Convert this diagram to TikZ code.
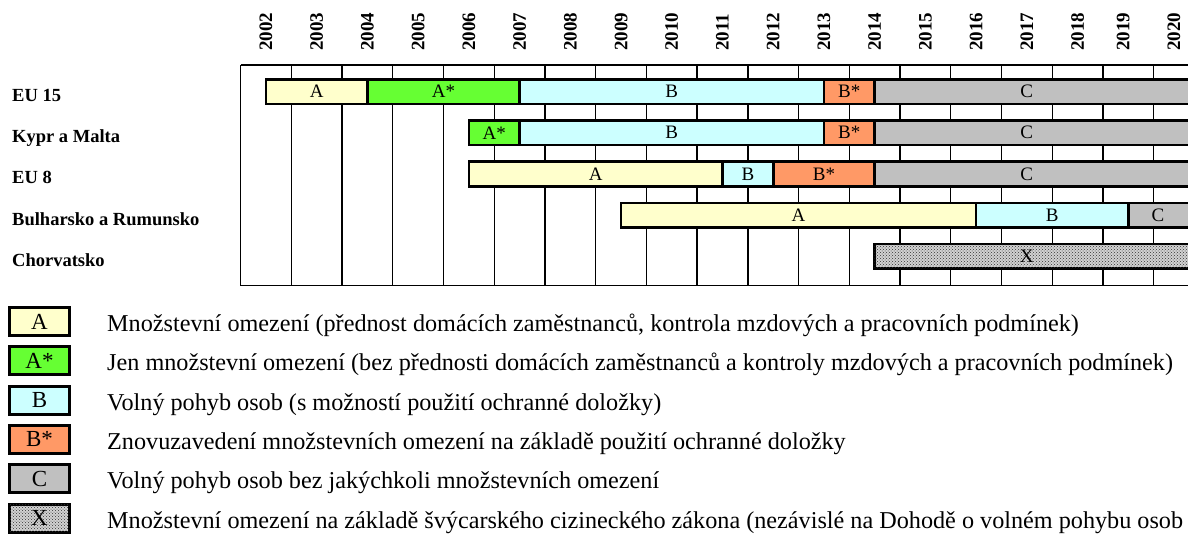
\documentclass[tikz,border=0pt]{standalone}
\usepackage{fontspec}
\setmainfont{Liberation Serif}
\usetikzlibrary{patterns}

\definecolor{colA}{HTML}{FFFFCC}
\definecolor{colAs}{HTML}{66FF33}
\definecolor{colB}{HTML}{CCFFFF}
\definecolor{colBs}{HTML}{FF9966}
\definecolor{colC}{HTML}{C0C0C0}

\tikzset{
  gridline/.style={line width=1.3pt},
  seg/.style={draw, line width=2.6pt},
  segA/.style={seg, fill=colA},
  segAs/.style={seg, fill=colAs},
  segB/.style={seg, fill=colB},
  segBs/.style={seg, fill=colBs},
  segC/.style={seg, fill=colC},
  hatchX/.style={fill=gray!35, postaction={pattern=crosshatch dots, pattern color=black!80}},
  segX/.style={seg, hatchX},
  bartext/.style={inner sep=0pt, font=\fontsize{19}{22}\selectfont},
  rowlbl/.style={anchor=base west, inner sep=0pt, font=\fontsize{18.5}{22}\selectfont\bfseries},
  yearlbl/.style={rotate=90, anchor=west, inner sep=0pt, font=\fontsize{19}{22}\selectfont\bfseries},
  keybox/.style={draw, line width=3pt, minimum width=60pt, minimum height=28pt, inner sep=0pt, font=\fontsize{23}{26}\selectfont},
  keytext/.style={anchor=base west, inner sep=0pt, font=\fontsize{24.2}{28}\selectfont}
}

\begin{document}
\begin{tikzpicture}[x=1pt, y=-1pt]
    \useasboundingbox (0,0) rectangle (1188,533);
    \clip (0,0) rectangle (1188,533);

    % years on top
    \foreach \yr [count=\k from 0] in {2002,...,2020}
        \node[yearlbl] (y\yr) at ({266+50.72*\k-5*(\k>16)}, 51) {\yr};

    % grid
    \foreach \k in {0,...,19}
        \draw[gridline] ({240.64+50.72*\k}, 65) -- ({240.64+50.72*\k}, 285.6);
    \draw[gridline] (240.64,65) -- (1200,65);
    \draw[gridline] (240.64,285.6) -- (1200,285.6);

    % rows
    \node[rowlbl] (eu15) at (12,101.5) {EU 15};
    \node[rowlbl] (kypr) at (12,142.7) {Kypr a Malta};
    \node[rowlbl] (eu8) at (12,183.9) {EU 8};
    \node[rowlbl] (bulh) at (12,225.1) {Bulharsko a Rumunsko};
    \node[rowlbl] (chorv) at (12,266.3) {Chorvatsko};

    \draw[segA] (266,79.3) rectangle (367.44,103.8) node[midway, bartext] (eu15A) {A};
    \draw[segAs] (367.44,79.3) rectangle (519.6,103.8) node[midway, bartext] (eu15As) {A*};
    \draw[segB] (519.6,79.3) rectangle (823.92,103.8) node[midway, bartext] (eu15B) {B};
    \draw[segBs] (823.92,79.3) rectangle (874.64,103.8) node[midway, bartext] (eu15Bs) {B*};
    \draw[segC] (874.64,79.3) rectangle (1215,103.8);
    \node[bartext] (eu15C) at (1026.8,91.55) {C};

    \draw[segAs] (468.88,120.5) rectangle (519.6,145) node[midway, bartext] (kyprAs) {A*};
    \draw[segB] (519.6,120.5) rectangle (823.92,145) node[midway, bartext] (kyprB) {B};
    \draw[segBs] (823.92,120.5) rectangle (874.64,145) node[midway, bartext] (kyprBs) {B*};
    \draw[segC] (874.64,120.5) rectangle (1215,145);
    \node[bartext] (kyprC) at (1026.8,132.75) {C};

    \draw[segA] (468.88,161.7) rectangle (722.48,186.2) node[midway, bartext] (eu8A) {A};
    \draw[segB] (722.48,161.7) rectangle (773.2,186.2) node[midway, bartext] (eu8B) {B};
    \draw[segBs] (773.2,161.7) rectangle (874.64,186.2) node[midway, bartext] (eu8Bs) {B*};
    \draw[segC] (874.64,161.7) rectangle (1215,186.2);
    \node[bartext] (eu8C) at (1026.8,173.95) {C};

    \draw[segA] (621.04,202.9) rectangle (976.08,227.4) node[midway, bartext] (bulhA) {A};
    \draw[segB] (976.08,202.9) rectangle (1128.24,227.4) node[midway, bartext] (bulhB) {B};
    \draw[segC] (1128.24,202.9) rectangle (1215,227.4);
    \node[bartext] (bulhC) at (1158,215.15) {C};

    \draw[segX] (874.64,244.1) rectangle (1215,268.6);
    \node[bartext] (chorvX) at (1026.8,256.35) {X};

    % legend
    \node[keybox, fill=colA] (keyA) at (39.5,321.5) {A};
    \node[keybox, fill=colAs] (keyAs) at (39.5,360.8) {A*};
    \node[keybox, fill=colB] (keyB) at (39.5,400.1) {B};
    \node[keybox, fill=colBs] (keyBs) at (39.5,439.4) {B*};
    \node[keybox, fill=colC] (keyC) at (39.5,478.7) {C};
    \node[keybox, hatchX] (keyX) at (39.5,518) {X};

    \node[keytext] (txtA) at (107,331.5) {Množstevní omezení (přednost domácích zaměstnanců, kontrola mzdových a pracovních podmínek)};
    \node[keytext] (txtAs) at (107,370.8) {Jen množstevní omezení (bez přednosti domácích zaměstnanců a kontroly mzdových a pracovních podmínek)};
    \node[keytext] (txtB) at (107,410.1) {Volný pohyb osob (s možností použití ochranné doložky)};
    \node[keytext] (txtBs) at (107,449.4) {Znovuzavedení množstevních omezení na základě použití ochranné doložky};
    \node[keytext] (txtC) at (107,488.7) {Volný pohyb osob bez jakýchkoli množstevních omezení};
    \node[keytext] (txtX) at (107,528) {Množstevní omezení na základě švýcarského cizineckého zákona (nezávislé na Dohodě o volném pohybu osob};
\end{tikzpicture}
\end{document}
